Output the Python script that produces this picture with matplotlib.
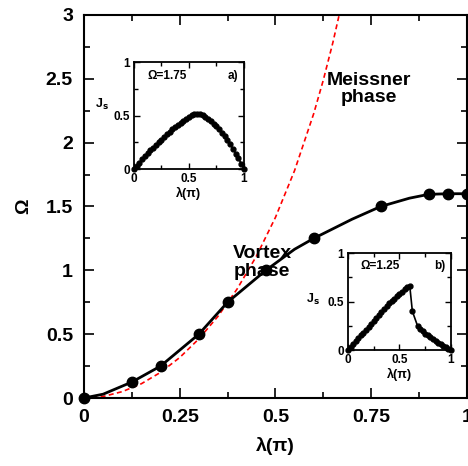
import matplotlib
matplotlib.use("Agg")
import matplotlib.pyplot as plt
from matplotlib.ticker import MultipleLocator

plt.rcParams['font.family'] = ['Liberation Sans', 'DejaVu Sans']

# main phase boundary (numerical points)
lam_pts = [0.0, 0.125, 0.2, 0.3, 0.375, 0.475, 0.6, 0.775, 0.9, 0.95, 1.0]
om_pts = [0.0, 0.125, 0.25, 0.5, 0.75, 1.0, 1.25, 1.5, 1.6, 1.6, 1.6]

# smooth curve through the points
lam_curve = [0.0, 0.05, 0.125, 0.2, 0.3, 0.375, 0.475, 0.55, 0.6, 0.7, 0.775, 0.85, 0.9, 0.95, 1.0]
om_curve = [0.0, 0.03, 0.125, 0.25, 0.5, 0.75, 1.0, 1.165, 1.25, 1.40, 1.5, 1.565, 1.595, 1.6, 1.6]

# red dashed analytic boundary
lam_red = [0.0, 0.05, 0.1, 0.15, 0.2, 0.25, 0.3, 0.35, 0.4, 0.45, 0.5, 0.55, 0.6, 0.625, 0.65, 0.67]
om_red = [0.0, 0.012, 0.05, 0.112, 0.201, 0.317, 0.463, 0.640, 0.854, 1.109, 1.414, 1.781, 2.227, 2.489, 2.783, 3.046]

# inset a: Omega = 1.75
lam_a = [i * 0.025 for i in range(41)]
js_a = [0.0, 0.03, 0.06, 0.09, 0.12, 0.15, 0.175, 0.2, 0.225, 0.25, 0.275, 0.30, 0.325,
        0.35, 0.37, 0.39, 0.41, 0.43, 0.45, 0.47, 0.49, 0.503, 0.513, 0.518, 0.515,
        0.505, 0.49, 0.47, 0.45, 0.425, 0.40, 0.37, 0.34, 0.305, 0.27, 0.23, 0.19,
        0.145, 0.10, 0.05, 0.0]

# inset b: Omega = 1.25
lam_b = [0.0, 0.025, 0.05, 0.075, 0.1, 0.125, 0.15, 0.175, 0.2, 0.225, 0.25, 0.275, 0.3,
         0.325, 0.35, 0.375, 0.4, 0.425, 0.45, 0.475, 0.5, 0.525, 0.55, 0.575, 0.6,
         0.625, 0.675, 0.7, 0.725, 0.75, 0.775, 0.8, 0.825, 0.85, 0.875, 0.9, 0.925,
         0.95, 0.975, 1.0]
js_b = [0.0, 0.03, 0.06, 0.09, 0.12, 0.15, 0.18, 0.21, 0.24, 0.27, 0.30, 0.33, 0.36,
        0.39, 0.42, 0.45, 0.48, 0.505, 0.53, 0.555, 0.58, 0.60, 0.625, 0.645, 0.66,
        0.40, 0.25, 0.22, 0.195, 0.17, 0.15, 0.13, 0.11, 0.09, 0.075, 0.06, 0.045,
        0.03, 0.015, 0.0]

fig = plt.figure(figsize=(4.68, 4.66), dpi=100)
ax = fig.add_axes([0.1795, 0.1459, 0.818, 0.822])

ax.plot(lam_red, om_red, color='#ff0000', lw=1.2, ls=(0, (3, 2)), zorder=2)
ax.plot(lam_curve, om_curve, color='black', lw=2.0, zorder=3)
ax.plot(lam_pts, om_pts, 'o', color='black', ms=7.5, zorder=4, clip_on=False)

ax.set_xlim(0, 1)
ax.set_ylim(0, 3)
ax.set_xticks([0, 0.25, 0.5, 0.75, 1.0])
ax.set_xticklabels(['0', '0.25', '0.5', '0.75', '1'])
ax.set_yticks([0, 0.5, 1, 1.5, 2, 2.5, 3])
ax.set_yticklabels(['0', '0.5', '1', '1.5', '2', '2.5', '3'])
ax.xaxis.set_minor_locator(MultipleLocator(0.125))
ax.yaxis.set_minor_locator(MultipleLocator(0.25))
ax.tick_params(which='both', direction='in', top=True, right=True, width=1.2)
ax.tick_params(which='major', length=7, labelsize=14, pad=8)
ax.tick_params(which='minor', length=4)
for lab in ax.get_xticklabels() + ax.get_yticklabels():
    lab.set_fontweight('bold')
for s in ax.spines.values():
    s.set_linewidth(1.5)
ax.set_xlabel('λ(π)', fontsize=14, fontweight='bold', labelpad=8)
ax.set_ylabel('Ω', fontsize=14, fontweight='bold', labelpad=10)

ax.text(0.745, 2.42, 'Meissner\nphase', fontsize=14, ha='center', va='center',
        linespacing=1.05, fontweight='bold')
ax.text(0.465, 1.06, 'Vortex\nphase', fontsize=14, ha='center', va='center',
        linespacing=1.05, fontweight='bold')


def style_inset(a, label, omtxt, js_xy):
    a.set_xlim(0, 1)
    a.set_ylim(0, 1)
    a.set_xticks([0, 0.5, 1])
    a.set_xticklabels(['0', '0.5', '1'])
    a.set_yticks([0, 0.5, 1])
    a.set_yticklabels(['0', '0.5', '1'])
    a.xaxis.set_minor_locator(MultipleLocator(0.25))
    a.yaxis.set_minor_locator(MultipleLocator(0.25))
    a.tick_params(which='both', direction='in', top=True, right=True, width=1.0)
    a.tick_params(which='major', length=4, labelsize=8.5, pad=3)
    a.tick_params(which='minor', length=3)
    for lab in a.get_xticklabels() + a.get_yticklabels():
        lab.set_fontweight('bold')
    for s in a.spines.values():
        s.set_linewidth(1.3)
    a.set_xlabel('λ(π)', fontsize=9, fontweight='bold', labelpad=1)
    a.text(js_xy[0], js_xy[1], 'J$_\\mathbf{s}$', fontsize=9, fontweight='bold',
           transform=a.transAxes, ha='center', va='center')
    a.text(0.12, 0.87, omtxt, fontsize=8.5, fontweight='bold', transform=a.transAxes,
           ha='left', va='center')
    a.text(0.95, 0.87, label, fontsize=8.5, fontweight='bold', transform=a.transAxes,
           ha='right', va='center')


ia = fig.add_axes([0.2863, 0.6373, 0.235, 0.2296])
ia.plot(lam_a, js_a, '-o', color='black', lw=1.2, ms=3.5, clip_on=False)
style_inset(ia, 'a)', 'Ω=1.75', (-0.29, 0.6))

ib = fig.add_axes([0.7436, 0.2489, 0.220, 0.208])
ib.plot(lam_b, js_b, '-o', color='black', lw=1.2, ms=3.5, clip_on=False)
style_inset(ib, 'b)', 'Ω=1.25', (-0.34, 0.52))

fig.savefig('out.png', dpi=100)
